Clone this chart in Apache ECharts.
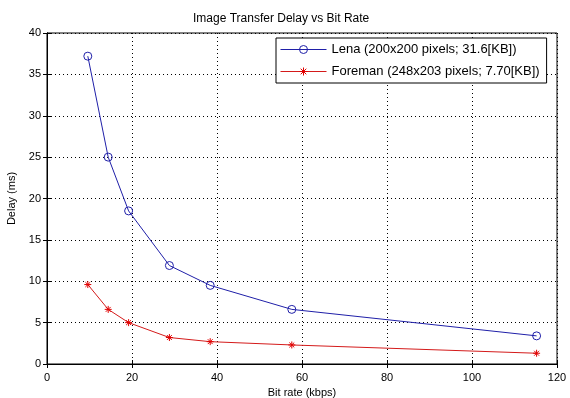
<!DOCTYPE html>
<html>
<head>
<meta charset="utf-8">
<script src="https://cdn.jsdelivr.net/npm/echarts@6/dist/echarts.min.js"></script>
<style>
  html, body { margin: 0; padding: 0; background: #fff; }
  #chart { width: 570px; height: 398px; }
</style>
</head>
<body>
<div id="chart"></div>
<script>
// bit rates (kbps)
const bitRates = [9.6, 14.4, 19.2, 28.8, 38.4, 57.6, 115.2]
// delay (ms)
const lenaDelay = [37.2, 25.0, 18.5, 11.9, 9.5, 6.6, 3.4]
const foremanDelay = [9.6, 6.6, 5.0, 3.2, 2.7, 2.3, 1.3]
const lenaName = 'Lena (200x200 pixels; 31.6[KB])'
const foremanName = 'Foreman (248x203 pixels; 7.70[KB])'

const font = 'Liberation Sans, Arial, sans-serif'
// asterisk marker like matlab '*'
const star = 'path://M5,0L5,10M0,5L10,5M1.5,1.5L8.5,8.5M8.5,1.5L1.5,8.5'

const chart = echarts.init(document.getElementById('chart'))

const baseAxis = {
  min: 0,
  axisLine: { show: true, lineStyle: { color: '#000', width: 1 } },
  axisTick: { show: true, inside: true, length: 4, lineStyle: { color: '#000' } },
  axisLabel: { color: '#000', fontFamily: font, fontSize: 11 },
  nameTextStyle: { color: '#000', fontFamily: font, fontSize: 11 },
}

chart.setOption({
  animation: false,
  title: {
    text: 'Image Transfer Delay vs Bit Rate',
    left: 188, top: 8,
    textStyle: { fontFamily: font, fontSize: 12, fontWeight: 'normal', color: '#000' },
  },
  grid: {
    left: 47, right: 13, top: 33, bottom: 34,
    outerBoundsMode: 'none',
    show: true, borderColor: '#000', borderWidth: 1,
  },
  legend: {
    orient: 'vertical',
    left: 276, top: 38,
    padding: [5, 7, 5, 4],
    itemWidth: 46, itemHeight: 10, itemGap: 9,
    backgroundColor: '#fff',
    borderColor: '#000', borderWidth: 1, borderRadius: 0,
    lineStyle: { width: 1 },
    itemStyle: { borderWidth: 1 },
    textStyle: { fontFamily: font, fontSize: 13, color: '#000' },
    data: [lenaName, foremanName],
  },
  xAxis: [
    {
      ...baseAxis,
      type: 'value', max: 120, interval: 20,
      name: 'Bit rate (kbps)', nameLocation: 'middle', nameGap: 20,
      axisLabel: { ...baseAxis.axisLabel, margin: 8 },
      splitLine: { show: true, lineStyle: { color: '#000', type: [1, 3], width: 1 } },
    },
    {
      ...baseAxis,
      type: 'value', max: 120, interval: 20, position: 'top',
      axisLabel: { show: false }, splitLine: { show: false },
    },
  ],
  yAxis: [
    {
      ...baseAxis,
      type: 'value', max: 40, interval: 5,
      name: 'Delay (ms)', nameLocation: 'middle', nameGap: 29,
      axisLabel: { ...baseAxis.axisLabel, margin: 6 },
      splitLine: { show: true, lineStyle: { color: '#000', type: [1, 3], width: 1 } },
    },
    {
      ...baseAxis,
      type: 'value', max: 40, interval: 5, position: 'right',
      axisLabel: { show: false }, splitLine: { show: false },
    },
  ],
  series: [
    {
      name: lenaName,
      type: 'line',
      data: bitRates.map((x, i) => [x, lenaDelay[i]]),
      symbol: 'circle', symbolSize: 8,
      lineStyle: { color: '#1f1fa8', width: 1 },
      itemStyle: { color: 'rgba(255,255,255,0)', borderColor: '#1f1fa8', borderWidth: 1 },
    },
    {
      name: foremanName,
      type: 'line',
      data: bitRates.map((x, i) => [x, foremanDelay[i]]),
      symbol: star, symbolSize: 7,
      lineStyle: { color: '#d41a1a', width: 1 },
      itemStyle: { color: '#d41a1a', borderColor: '#e00000', borderWidth: 1 },
    },
  ],
})
</script>
</body>
</html>
